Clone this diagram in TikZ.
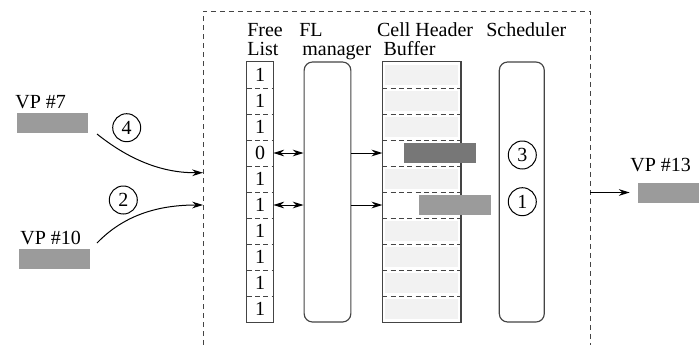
\documentclass[tikz,border=0pt]{standalone}
\usepackage{fontspec}
\setmainfont{Liberation Serif}
\usetikzlibrary{arrows.meta}
\newcommand\uu{0.6pt}
\definecolor{vpgray}{HTML}{9B9B9B}
\definecolor{darkcell}{HTML}{777777}
\definecolor{lightcell}{HTML}{F2F2F2}
\definecolor{linegray}{HTML}{444444}
\tikzset{
  every node/.style={font=\rmfamily\fontsize{12}{10.8}\selectfont},
  txt/.style={inner sep=0pt, anchor=base west},
  cellbox/.style={inner sep=0pt, minimum width=26*\uu, minimum height=26*\uu},
  bufcell/.style={inner sep=0pt, minimum width=78*\uu, minimum height=26*\uu},
  unitbox/.style={draw=linegray, line width=0.7pt, rounded corners=5pt, inner sep=0pt},
  divider/.style={draw=linegray, line width=0.7pt, dash pattern=on 3pt off 2pt},
  lightfill/.style={fill=lightcell},
  vpbox/.style={fill=vpgray, inner sep=0pt, minimum height=20*\uu},
  stepcircle/.style={circle, draw, line width=0.6pt, inner sep=0pt, minimum size=28*\uu},
  arr/.style={line width=0.6pt, -{Stealth[length=6.5pt, width=4pt]}},
  darr/.style={line width=0.6pt, {Stealth[length=6.5pt, width=4pt]}-{Stealth[length=6.5pt, width=4pt]}},
  boundary/.style={draw=linegray, line width=0.6pt, dash pattern=on 3pt off 2.4pt}
}
\begin{document}
\begin{tikzpicture}[x=0.6pt, y=-0.6pt]
\useasboundingbox (0,0) rectangle (699,345);

% system boundary (dashed, open at bottom)
\draw[boundary] (203,345) -- (203,11) -- (590,11) -- (590,345);

% headers
\node[txt] (hFree) at (247,36.7) {Free};
\node[txt] (hList) at (247,55) {List};
\node[txt] (hFL) at (299,36.7) {FL};
\node[txt] (hMgr) at (302,55) {manager};
\node[txt] (hCell) at (376.7,36.7) {Cell Header};
\node[txt] (hBuf) at (383.3,55) {Buffer};
\node[txt] (hSch) at (486,36.7) {Scheduler};

% free list cells
\foreach \i/\v in {1/1,2/1,3/1,4/0,5/1,6/1,7/1,8/1,9/1,10/1} {
  \node[cellbox] (fl\i) at (260, {62+26*\i-13}) {\v};
}
\draw[draw=linegray, line width=0.7pt] (fl1.north west) rectangle (fl10.south east);
\foreach \i in {1,...,9} {
  \draw[divider] (fl\i.south west) -- (fl\i.south east);
}

% FL manager
\node[unitbox, minimum width=46.7*\uu, minimum height=260*\uu] (flm) at (327.5,192) {};

% cell header buffer
\foreach \i in {1,...,10} {
  \node[bufcell] (cb\i) at (421.7, {62+26*\i-13}) {};
}
\foreach \i in {1,2,3,5,7,8,9,10} {
  \fill[lightfill] ([shift={(3,3)}]cb\i.north west) rectangle ([shift={(-3,-3)}]cb\i.south east);
}
\draw[draw=linegray, line width=0.7pt] (cb1.north west) rectangle (cb10.south east);
\foreach \i in {1,...,9} {
  \draw[divider] (cb\i.south west) -- (cb\i.south east);
}
% cells being written
\node[inner sep=0pt, fill=darkcell, minimum width=71.7*\uu, minimum height=20*\uu] (c3) at (439.8,153) {};
\node[inner sep=0pt, fill=vpgray, minimum width=72*\uu, minimum height=20*\uu] (c1) at (455,205) {};

% scheduler
\node[unitbox, minimum width=45*\uu, minimum height=260*\uu] (sch) at (521.8,192) {};
\node[stepcircle] (s3) at (522.3,155) {3};
\node[stepcircle] (s1) at (522.3,201.7) {1};

% arrows inside
\draw[darr] (fl4.east) -- (fl4.east -| flm.west);
\draw[darr] (fl6.east) -- (fl6.east -| flm.west);
\draw[arr] (flm.east |- cb4.west) -- (cb4.west);
\draw[arr] (flm.east |- cb6.west) -- (cb6.west);

% input VPs
\node[txt] (t7) at (15,108) {VP \#7};
\node[vpbox, minimum width=71*\uu] (vp7) at (52.5,123) {};
\node[txt] (t10) at (20,244) {VP \#10};
\node[vpbox, minimum width=71*\uu] (vp10) at (54.5,259) {};
\node[stepcircle] (s4) at (126.7,127.7) {4};
\node[stepcircle] (s2) at (123.3,200) {2};

\coordinate (a7) at (97,134);
\coordinate (e7) at (203,172.7);
\coordinate (a10) at (97,243);
\coordinate (e10) at (203,205);
\draw[arr] (a7) .. controls (132,162) and (165,173) .. (e7);
\draw[arr] (a10) .. controls (125,214) and (160,205) .. (e10);

% output VP
\node[txt] (t13) at (630,171.7) {VP \#13};
\node[vpbox, minimum width=61*\uu] (vp13) at (668.5,192.5) {};
\coordinate (o13) at (590,192.5);
\draw[arr, shorten >=4.8pt] (o13) -- (vp13.west);
\end{tikzpicture}
\end{document}
